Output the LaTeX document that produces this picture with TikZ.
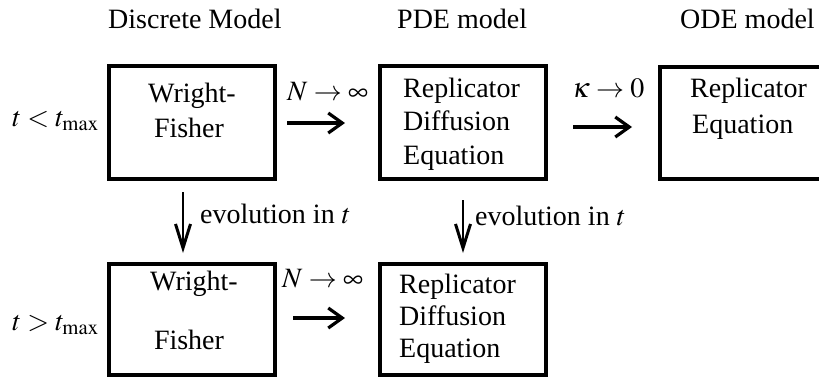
\documentclass[tikz,border=0pt]{standalone}
\usepackage{mathptmx}
\usepackage{fontspec}
\setmainfont{Liberation Serif}
\usetikzlibrary{arrows.meta}
\tikzset{
  box/.style={draw, line width=4pt, inner sep=0pt, minimum width=166pt},
  txt/.style={anchor=base west, inner sep=0pt, font=\fontsize{28}{33}\selectfont},
  ctxt/.style={anchor=base, inner sep=0pt, font=\fontsize{28}{33}\selectfont},
  harrow/.style={line width=3.2pt, -{Straight Barb[length=14pt,width=20pt,line width=3.2pt]}},
  varrow/.style={line width=2.4pt, -{Straight Barb[length=24pt,width=15pt,line width=3pt]}}
}
\begin{document}
\begin{tikzpicture}[x=1pt,y=-1pt]
\useasboundingbox (0,0) rectangle (819,381);
\clip (0,0) rectangle (819,381);
% titles
\node[txt] (t1) at (108,28) {Discrete Model};
\node[txt] (t2) at (397,28) {PDE model};
\node[txt] (t3) at (680,28) {ODE model};
% side labels
\node[txt] (s1) at (12,126) {$t<t_{\max}$};
\node[txt] (s2) at (12,330) {$t>t_{\max}$};
% boxes
\node[box, minimum height=113pt] (wf1) at (192,122.5) {};
\node[box, minimum height=113pt] (pde1) at (463,122.5) {};
\node[box, minimum height=112pt] (ode) at (743,123) {};
\node[box, minimum height=111pt] (wf2) at (192,319.5) {};
\node[box, minimum height=111pt] (pde2) at (463,319.5) {};
% box texts
\node[ctxt] (wf1a) at (192,102) {Wright-};
\node[ctxt] (wf1b) at (189,137) {Fisher};
\node[txt] (pde1a) at (403,97) {Replicator};
\node[txt] (pde1b) at (403,130) {Diffusion};
\node[txt] (pde1c) at (403,164) {Equation};
\node[txt] (odea) at (690,97) {Replicator};
\node[txt] (odeb) at (692,133) {Equation};
\node[ctxt] (wf2a) at (194,290) {Wright-};
\node[ctxt] (wf2b) at (189,349) {Fisher};
\node[txt] (pde2a) at (399,293) {Replicator};
\node[txt] (pde2b) at (399,325) {Diffusion};
\node[txt] (pde2c) at (399,357) {Equation};
% arrow labels
\node[txt] (l1) at (287,100) {$N\to\infty$};
\node[txt] (l2) at (572,97) {$\kappa\to0$};
\node[txt] (l3) at (282,287) {$N\to\infty$};
\node[txt] (l4) at (200,223) {evolution in $t$};
\node[txt] (l5) at (475,225) {evolution in $t$};
% arrows
\coordinate (a1s) at (287,123); \coordinate (a1e) at (345,123);
\coordinate (a2s) at (573,127); \coordinate (a2e) at (632,127);
\coordinate (a3s) at (293,318); \coordinate (a3e) at (345,318);
\coordinate (v1s) at (183,192); \coordinate (v1e) at (183,253);
\coordinate (v2s) at (463,200); \coordinate (v2e) at (463,253);
\draw[harrow] (a1s) -- (a1e);
\draw[harrow] (a2s) -- (a2e);
\draw[harrow] (a3s) -- (a3e);
\draw[varrow] (v1s) -- (v1e);
\draw[varrow] (v2s) -- (v2e);
\end{tikzpicture}
\end{document}
